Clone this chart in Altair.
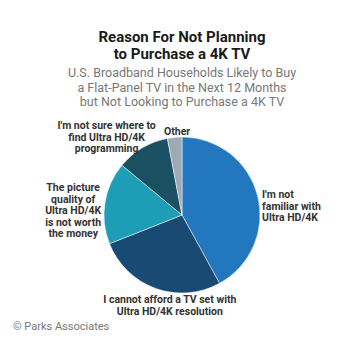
import altair as alt
import pandas as pd

categories = [
    "I'm not familiar with Ultra HD/4K",
    "I cannot afford a TV set with Ultra HD/4K resolution",
    "The picture quality of Ultra HD/4K is not worth the money",
    "I'm not sure where to find Ultra HD/4K programming",
    "Other",
]
label_lines = [
    ["I'm not", "familiar with", "Ultra HD/4K"],
    ["I cannot afford a TV set with", "Ultra HD/4K resolution"],
    ["The picture", "quality of", "Ultra HD/4K", "is not worth", "the money"],
    ["I'm not sure where to", "find Ultra HD/4K", "programming"],
    ["Other"],
]
values = [42, 27, 17, 11, 3]
colors = ["#2377bf", "#184a74", "#1e9db6", "#1b4f62", "#9eaab3"]

title_lines = ["Reason For Not Planning", "to Purchase a 4K TV"]
subtitle_lines = [
    "U.S. Broadband Households Likely to Buy",
    "a Flat-Panel TV in the Next 12 Months",
    "but Not Looking to Purchase a 4K TV",
]
source = "© Parks Associates"

df = pd.DataFrame({
    "cat": categories,
    "value": values,
    "order": list(range(len(categories))),
    "label": label_lines,
})

FONT = "Roboto"
CX, CY, R = 174, 207, 78

color_scale = alt.Scale(domain=categories, range=colors)

pie = alt.Chart(df).mark_arc(radius=R, stroke="white", strokeWidth=0.5).encode(
    theta=alt.Theta("value:Q", stack=True),
    order=alt.Order("order:Q"),
    color=alt.Color("cat:N", scale=color_scale, legend=None),
    x=alt.value(CX),
    y=alt.value(CY),
)

lab_base = alt.Chart(df).transform_joinaggregate(
    total="sum(value)"
).transform_window(
    cum="sum(value)", sort=[alt.SortField("order")], frame=[None, 0]
).transform_calculate(
    mid="(datum.cum - datum.value / 2) / datum.total"
)

offsets = [(-12, 4, "left"), (20, -4, "center"), (-15, -12, "center"), (-27, -7, "center"), (4, 12, "center")]
label_layers = []
for i, (dx, dy, al) in enumerate(offsets):
    label_layers.append(
        lab_base.transform_filter(alt.datum.order == i).mark_text(
            radius=95, dx=dx, dy=dy, align=al, baseline="middle",
            font=FONT, fontWeight="bold", fontSize=10.5, lineHeight=11.5, color="#333333",
        ).encode(
            theta=alt.Theta("mid:Q", stack=None, scale=alt.Scale(domain=[0, 1])),
            text="label",
            x=alt.value(CX),
            y=alt.value(CY),
        )
    )

labels = alt.layer(*label_layers)

title_df = pd.DataFrame({"t": [title_lines]})
title = alt.Chart(title_df).mark_text(
    font=FONT, fontWeight="bold", fontSize=15, lineHeight=16.5, color="#1a1a1a",
    align="center", baseline="top",
).encode(text="t", x=alt.value(174), y=alt.value(22))

sub_df = pd.DataFrame({"t": [subtitle_lines]})
subtitle = alt.Chart(sub_df).mark_text(
    font=FONT, fontSize=12.5, lineHeight=14.5, color="#777777",
    align="center", baseline="top",
).encode(text="t", x=alt.value(174), y=alt.value(59))

src_df = pd.DataFrame({"t": [source]})
src = alt.Chart(src_df).mark_text(
    font=FONT, fontSize=11, color="#777777", align="left", baseline="middle",
).encode(text="t", x=alt.value(5), y=alt.value(319))

chart = alt.layer(pie, labels, title, subtitle, src).resolve_scale(
    theta="independent"
).properties(
    width=344, height=344, autosize="none", padding=0, background="white",
).configure_view(stroke=None)

chart.save("out.html", embed_options={"renderer": "svg", "actions": False})
